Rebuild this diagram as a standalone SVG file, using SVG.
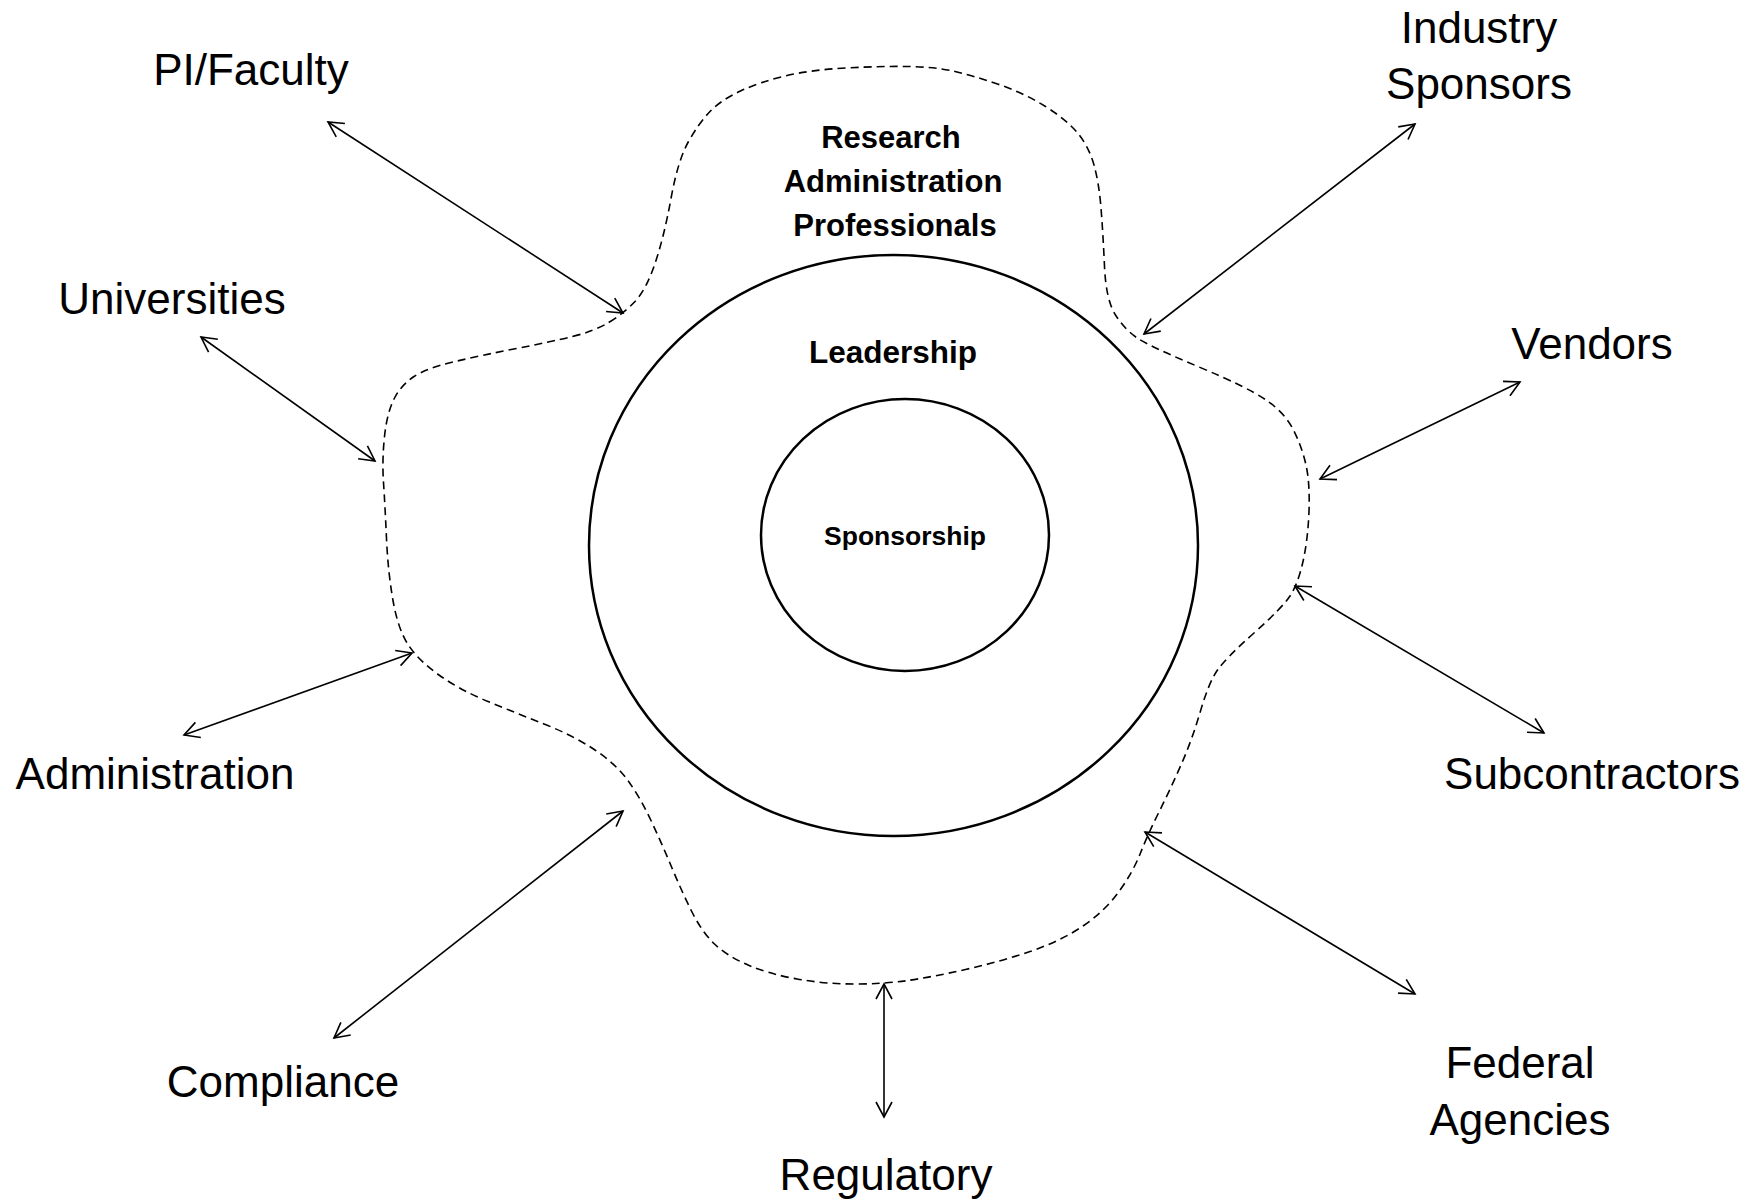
<svg xmlns="http://www.w3.org/2000/svg" width="1760" height="1202" viewBox="0 0 1760 1202">
<style>
.lbl{font-family:"Liberation Sans",Arial,sans-serif;font-size:44px;fill:#000;text-anchor:middle}
.bld{font-family:"Liberation Sans",Arial,sans-serif;font-weight:bold;font-size:31.5px;fill:#000;text-anchor:middle}
.ring{fill:none;stroke:#000;stroke-width:2.5}
.blob{fill:none;stroke:#000;stroke-width:1.6;stroke-dasharray:8 5}
.arr{fill:none;stroke:#000;stroke-width:1.6;marker-start:url(#ah);marker-end:url(#ah)}
</style>
<defs>
<marker id="ah" viewBox="-17 -10 19 20" refX="0" refY="0" markerWidth="19" markerHeight="20" markerUnits="userSpaceOnUse" orient="auto-start-reverse">
<path d="M-15,-8 L0,0 L-15,8" fill="none" stroke="#000" stroke-width="1.6"/>
</marker>
</defs>
<rect width="1760" height="1202" fill="#fff"/>
<g id="rap">
<path class="blob" d="M609.5,322 Q624,313 635,301.5 Q646,290 655,263.5 Q664,237 671,198.5 Q678,160 688.5,141.5 Q699,123 710,111.5 Q721,100 740.5,91 Q760,82 785,76 Q810,70 845.5,68 Q881,66 908,66.5 Q935,67 953,71 Q971,75 997.5,84 Q1024,93 1045.5,106.5 Q1067,120 1078,133.5 Q1089,147 1094,165 Q1099,183 1101,208 Q1103,233 1104.5,266.5 Q1106,300 1115.5,315 Q1125,330 1138,338.5 Q1151,347 1199,367 Q1247,387 1266,400 Q1285,413 1293.5,430 Q1302,447 1306,465 Q1310,483 1309,511 Q1308,539 1303,561.5 Q1298,584 1290,596 Q1282,608 1254,633 Q1226,658 1217.5,670 Q1209,682 1200.5,711 Q1192,740 1181,765 Q1170,790 1159,812 Q1148,834 1140.5,853 Q1133,872 1119,891.5 Q1105,911 1083,926 Q1061,941 1030,951.5 Q999,962 965.5,969.5 Q932,977 908,980.5 Q884,984 854.5,984 Q825,984 797,979 Q769,974 748,965 Q727,956 714.5,944 Q702,932 692,912 Q682,892 672,868 Q662,844 651,820.5 Q640,797 627.5,780 Q615,763 593.5,749 Q572,735 544,724 Q516,713 488,701.5 Q460,690 439,675 Q418,660 408,644.5 Q398,629 393,600.5 Q388,572 386.5,538.5 Q385,505 383.5,482.5 Q382,460 384.5,436.5 Q387,413 394,399 Q401,385 414,376.5 Q427,368 455,361.5 Q483,355 516.5,348.5 Q550,342 572.5,336.5 Q595,331 609.5,322 Z"/>
<text class="bld" x="891" y="148" style="font-size:31px">Research</text>
<text class="bld" x="893" y="192" style="font-size:31px">Administration</text>
<text class="bld" x="895" y="236" style="font-size:31px">Professionals</text>
</g>
<g id="leadership">
<ellipse class="ring" cx="893.5" cy="545.5" rx="304.5" ry="290.5"/>
<text class="bld" x="893" y="363">Leadership</text>
</g>
<g id="sponsorship">
<ellipse class="ring" cx="905" cy="535" rx="144" ry="136"/>
<text class="bld" x="905" y="545" style="font-size:26.5px">Sponsorship</text>
</g>
<g id="connectors">
<line class="arr" x1="328" y1="122" x2="623" y2="313"/>
<line class="arr" x1="201" y1="337" x2="375" y2="461"/>
<line class="arr" x1="1415" y1="124" x2="1144" y2="334"/>
<line class="arr" x1="1520" y1="382" x2="1320" y2="479"/>
<line class="arr" x1="184" y1="735" x2="412" y2="653"/>
<line class="arr" x1="1295" y1="586" x2="1544" y2="733"/>
<line class="arr" x1="334" y1="1038" x2="623" y2="811"/>
<line class="arr" x1="1145" y1="832" x2="1415" y2="994"/>
<line class="arr" x1="884" y1="984" x2="884" y2="1117"/>
</g>
<g id="pi-faculty"><text class="lbl" x="251" y="85">PI/Faculty</text></g>
<g id="universities"><text class="lbl" x="172" y="314">Universities</text></g>
<g id="industry-sponsors"><text class="lbl" x="1479" y="43">Industry</text><text class="lbl" x="1479" y="99">Sponsors</text></g>
<g id="vendors"><text class="lbl" x="1592" y="359">Vendors</text></g>
<g id="administration"><text class="lbl" x="155" y="789">Administration</text></g>
<g id="subcontractors"><text class="lbl" x="1592" y="789">Subcontractors</text></g>
<g id="compliance"><text class="lbl" x="283" y="1097">Compliance</text></g>
<g id="federal-agencies"><text class="lbl" x="1520" y="1078">Federal</text><text class="lbl" x="1520" y="1135">Agencies</text></g>
<g id="regulatory"><text class="lbl" x="886" y="1190">Regulatory</text></g>
</svg>
